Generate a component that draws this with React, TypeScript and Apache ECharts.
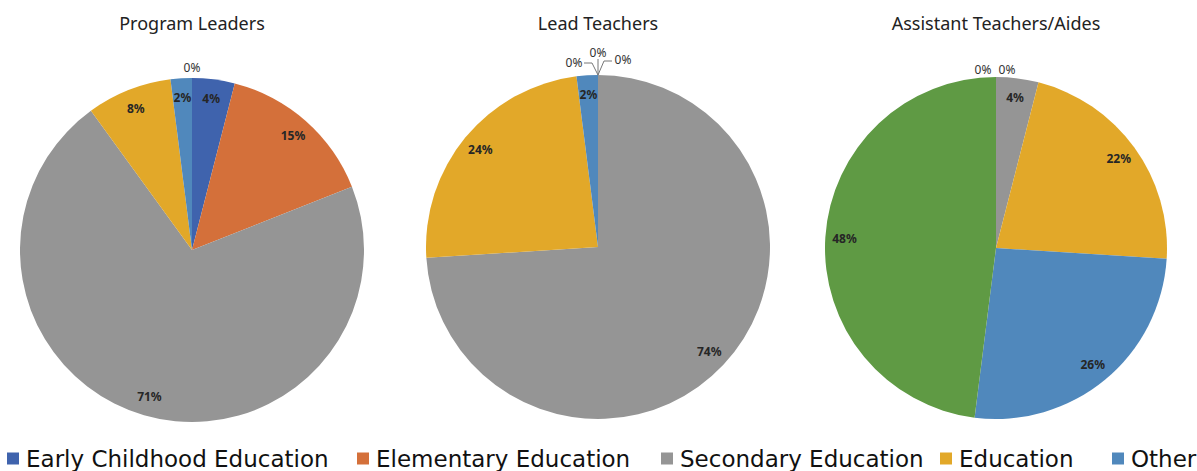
import React, { useEffect, useRef } from "react";
import * as echarts from "echarts";

const categories = [
  "Early Childhood Education",
  "Elementary Education",
  "Secondary Education",
  "Education",
  "Other",
  "No Degree",
];
const legendNames = ["Early Childhood Education", "Elementary Education", "Secondary Education", "Education", "Other"];
const programLeaders = [4, 15, 71, 8, 2, 0];
const leadTeachers = [0, 0, 74, 24, 2, 0];
const assistantTeachers = [0, 0, 4, 22, 26, 48];
const chartTitles = ["Program Leaders", "Lead Teachers", "Assistant Teachers/Aides"];

const COLORS = ["#3f63ad", "#d4703a", "#959595", "#e2a829", "#5088bc", "#5f9a44"];
const PIES = [
  { cx: 192, cy: 250, r: 172, values: programLeaders },
  { cx: 598, cy: 247, r: 172, values: leadTeachers },
  { cx: 996, cy: 248, r: 171, values: assistantTeachers },
];
// placement of the "0%" labels relative to the top point of each pie
const ZERO_LABELS: Record<string, { dx: number; dy: number; line?: number[][] }> = {
  "0-5": { dx: 0, dy: -11 },
  "1-0": { dx: -24, dy: -13, line: [[0, 0], [-6, -12], [-14, -12]] },
  "1-1": { dx: 0, dy: -23, line: [[0, 0], [0, -8], [0, -16]] },
  "1-5": { dx: 25, dy: -16, line: [[0, 0], [6, -14], [14, -14]] },
  "2-0": { dx: -13, dy: -8 },
  "2-1": { dx: 11, dy: -8 },
};
const LEGEND_X = [7, 357, 661, 940, 1112];
const FONT = "'Noto Sans', sans-serif";

export default function App() {
  const ref = useRef<HTMLDivElement>(null);
  useEffect(() => {
    document.body.style.margin = "0";
    const chart = echarts.init(ref.current!, null, { renderer: "svg" });
    const series: any[] = [];
    PIES.forEach((p, pi) => {
      const topX = p.cx;
      const topY = p.cy - p.r;
      series.push({
        type: "pie",
        center: [p.cx, p.cy],
        radius: p.r,
        startAngle: 90,
        clockwise: true,
        avoidLabelOverlap: false,
        emphasis: { disabled: true },
        silent: true,
        itemStyle: { borderWidth: 0 },
        label: {
          position: "outside",
          formatter: "{c}%",
          fontSize: 12,
          fontFamily: FONT,
          color: "#333",
        },
        labelLine: { length: 4, length2: 6, lineStyle: { color: "#777", width: 1 } },
        labelLayout: (params: any) => {
          const spec = ZERO_LABELS[`${pi}-${params.dataIndex}`];
          if (!spec) return {};
          const out: any = {
            x: topX + spec.dx,
            y: topY + spec.dy,
            align: "center",
            verticalAlign: "middle",
          };
          if (spec.line) {
            out.labelLinePoints = spec.line.map(([a, b]) => [topX + a, topY + b]);
          }
          return out;
        },
        data: p.values.map((v, i) => {
          const spec = ZERO_LABELS[`${pi}-${i}`];
          return {
            name: categories[i],
            value: v,
            itemStyle: { color: COLORS[i] },
            label: { show: v === 0 && !!spec },
            labelLine: { show: v === 0 && !!spec && !!spec.line },
          };
        }),
      });
      series.push({
        type: "pie",
        center: [p.cx, p.cy],
        radius: [p.r * 0.74, p.r],
        startAngle: 90,
        clockwise: true,
        silent: true,
        emphasis: { disabled: true },
        itemStyle: { color: "transparent", borderWidth: 0 },
        label: {
          position: "inside",
          formatter: "{c}%",
          fontSize: 12,
          fontWeight: "bold",
          fontFamily: FONT,
          color: "#262626",
        },
        labelLine: { show: false },
        data: p.values.map((v, i) => ({
          name: categories[i],
          value: v,
          label: { show: v > 0 },
        })),
      });
    });
    chart.setOption({
      animation: false,
      backgroundColor: "#ffffff",
      title: chartTitles.map((t, i) => ({
        text: t,
        left: PIES[i].cx,
        top: 14,
        padding: 0,
        textAlign: "center",
        textStyle: { fontSize: 18, fontWeight: "normal", color: "#222", fontFamily: FONT },
      })),
      legend: legendNames.map((n, i) => ({
        data: [{ name: n, itemStyle: { color: COLORS[categories.indexOf(n)] } }],
        left: LEGEND_X[i],
        top: 447,
        icon: "rect",
        itemWidth: 12,
        itemHeight: 12,
        selectedMode: false,
        padding: 0,
        textStyle: { fontSize: 23, color: "#111", fontFamily: "'DejaVu Sans', sans-serif", padding: [0, 0, 0, 2] },
      })),
      series,
    });
    return () => chart.dispose();
  }, []);
  return <div ref={ref} style={{ width: 1197, height: 471 }} />;
}
